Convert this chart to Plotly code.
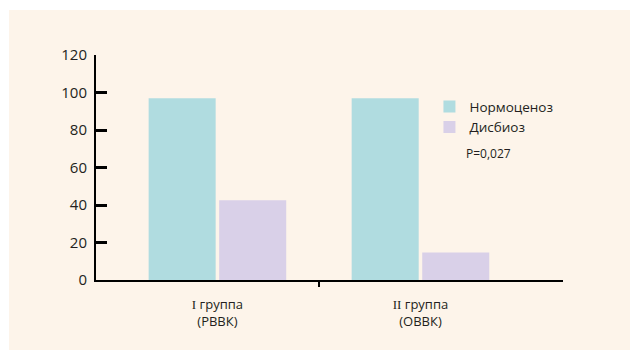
import plotly.graph_objects as go

categories = ['<span style="font-family:Liberation Serif">I</span> группа<br>(РВВК)',
              '<span style="font-family:Liberation Serif">II</span> группа<br>(ОВВК)']
cat_pos = [0, 1]
series_names = ["Нормоценоз", "Дисбиоз"]
normocenosis = [97, 97]
dysbiosis = [42.5, 14.7]
y_ticks = [0, 20, 40, 60, 80, 100, 120]
p_text = "P=0,027"

colors = ["#B0DCE0", "#D9D0E8"]
bg = "#FDF4EA"
ink = "#231F20"
font = "Open Sans"

x_range = [-0.598, 1.702]

fig = go.Figure()
for name, vals, c in zip(series_names, [normocenosis, dysbiosis], colors):
    fig.add_trace(go.Bar(x=cat_pos, y=vals, name=name, marker=dict(color=c, line=dict(width=0))))

# invisible trace for overlay axis carrying the right-end tick
fig.add_trace(go.Scatter(x=[x_range[1]], y=[0], xaxis="x2", mode="markers",
                         marker=dict(opacity=0), showlegend=False, hoverinfo="skip"))

L, T, W, H = 88, 47, 467, 225

fig.update_layout(
    width=638, height=350,
    margin=dict(l=L, r=638 - L - W, t=T, b=350 - T - H),
    paper_bgcolor="white", plot_bgcolor=bg,
    barmode="group", bargap=0.305, bargroupgap=0.05,
    font=dict(family=font, color=ink),
    showlegend=True,
    legend=dict(x=0.714, y=0.839, xanchor="left", yanchor="top",
                bgcolor="rgba(0,0,0,0)", font=dict(size=13.5, color=ink),
                tracegroupgap=0, itemsizing="constant"),
    xaxis=dict(range=x_range, tickvals=cat_pos, ticktext=categories,
               showline=True, linecolor="black", linewidth=2,
               ticks="outside", ticklen=0, showgrid=False, zeroline=False,
               tickfont=dict(size=13, color=ink), ticklabelstandoff=11,
               minor=dict(tickvals=[0.5], ticks="outside", ticklen=5,
                          tickwidth=2, tickcolor="black")),
    xaxis2=dict(range=x_range, overlaying="x", anchor="y", side="bottom",
                tickvals=[x_range[1]], showticklabels=False,
                ticks="inside", ticklen=5, tickwidth=2, tickcolor="black",
                showline=False, showgrid=False, zeroline=False),
    yaxis=dict(range=[0, 120], tickvals=y_ticks, showline=True, linecolor="black",
               linewidth=2, ticks="inside", ticklen=11, tickwidth=2.5,
               tickcolor="black", showgrid=False, zeroline=False,
               tickfont=dict(size=15, color=ink), ticklabelstandoff=4),
    shapes=[dict(type="rect", xref="paper", yref="paper", layer="below",
                 x0=(1 - L) / W, x1=1.3, y0=-0.6, y1=1 + (T - 2) / H,
                 fillcolor=bg, line=dict(width=0))],
    annotations=[dict(text=p_text, xref="paper", yref="paper",
                      x=(456 - L) / W, y=(T + H - 145) / H,
                      xanchor="left", yanchor="middle", showarrow=False,
                      font=dict(size=12, color=ink))],
)

fig.write_html("out.html")
